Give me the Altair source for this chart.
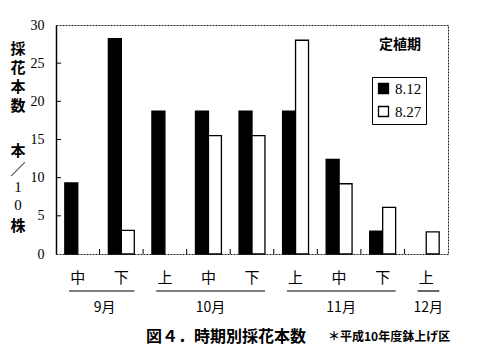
import altair as alt
import pandas as pd

# ---- data ----
slots = ["9月中", "9月下", "10月上", "10月中", "10月下", "11月上", "11月中", "11月下", "12月上"]
series_names = ["8.12", "8.27"]
vals_812 = [9.3, 28.2, 18.7, 18.7, 18.7, 18.7, 12.4, 3.0, 0.0]
vals_827 = [0.0, 3.1, 0.0, 15.5, 15.5, 28.0, 9.2, 6.1, 2.9]
months = ["9月", "10月", "11月", "12月"]
month_first = ["9月中", "10月上", "11月上", "12月上"]
month_last = ["9月下", "10月下", "11月下", "12月上"]
month_label_at = ["9月下", "10月中", "11月中", "12月上"]
y_tick_values = [0, 5, 10, 15, 20, 25, 30]
inner_ticks = [5, 10, 15, 20, 25]
legend_title = "定植期"
caption = "図４．時期別採花本数"
note = "＊平成10年度鉢上げ区"

rows = []
for s, a, b in zip(slots, vals_812, vals_827):
    rows.append({"slot": s, "series": series_names[0], "value": a})
    rows.append({"slot": s, "series": series_names[1], "value": b})
bars_df = pd.DataFrame(rows)
bars_df = bars_df[bars_df["value"] > 0]

W, H = 392, 229
JP = "Noto Sans CJK JP"
SERIF = "Liberation Serif"

xscale = alt.Scale(domain=slots, paddingInner=0, paddingOuter=0)
yscale = alt.Scale(domain=[0, 30])
yaxis = alt.Axis(values=y_tick_values, labelOverlap=False)

bars = alt.Chart(bars_df).mark_bar(stroke="black", strokeWidth=1.3).encode(
    x=alt.X("slot:N", scale=xscale, sort=slots, title=None,
            axis=alt.Axis(labelExpr="substring(datum.label, length(datum.label)-1)")),
    xOffset=alt.XOffset("series:N", scale=alt.Scale(domain=series_names, paddingOuter=0.68, paddingInner=0)),
    y=alt.Y("value:Q", scale=yscale, title=None, axis=yaxis),
    fill=alt.Fill("series:N", scale=alt.Scale(domain=series_names, range=["black", "white"]),
                  legend=alt.Legend(orient="none", legendX=316, legendY=52, title=None,
                                    strokeColor="black", fillColor="white", padding=4,
                                    symbolType="square", symbolSize=100, symbolStrokeColor="black",
                                    symbolStrokeWidth=1.3, labelFont=SERIF, labelFontSize=15,
                                    labelColor="black", labelOffset=4, rowPadding=6)),
)

ytick = alt.Chart(pd.DataFrame({"v": inner_ticks})).mark_rule(color="black", strokeWidth=1).encode(
    y=alt.Y("v:Q", scale=yscale, title=None, axis=yaxis), x=alt.value(0), x2=alt.value(5))

xtick = alt.Chart(pd.DataFrame({"slot": slots[1:]})).mark_rule(color="black", strokeWidth=1).encode(
    x=alt.X("slot:N", scale=xscale, sort=slots, bandPosition=0, title=None),
    y=alt.value(H), y2=alt.value(H - 5))

mdf = pd.DataFrame({"month": months, "first": month_first, "last": month_last, "at": month_label_at})

mrule = alt.Chart(mdf).mark_rule(color="black", strokeWidth=1.2).encode(
    x=alt.X("first:N", scale=xscale, sort=slots, bandPosition=0.3, title=None),
    x2=alt.X2("last:N", bandPosition=0.8),
    y=alt.value(266))

mtext_first = alt.Chart(mdf.iloc[:1]).mark_text(font=JP, fontSize=14, dx=5, color="black").encode(
    x=alt.X("at:N", scale=xscale, sort=slots, bandPosition=0, title=None),
    y=alt.value(283), text="month:N")

mtext_rest = alt.Chart(mdf.iloc[1:]).mark_text(font=JP, fontSize=14, dx=2, color="black").encode(
    x=alt.X("at:N", scale=xscale, sort=slots, bandPosition=0.5, title=None),
    y=alt.value(283), text="month:N")

one = pd.DataFrame({"k": [0]})

def label(txt, x, y, size, font=JP, weight="bold", align="center", baseline="middle", lh=19):
    return alt.Chart(one).mark_text(font=font, fontSize=size, fontWeight=weight, align=align,
                                    baseline=baseline, lineHeight=lh, color="black").encode(
        x=alt.value(x), y=alt.value(y), text=alt.value(txt))

ytitle1 = label(["採", "花", "本", "数"], -38, 17, 15, baseline="top")
ytitle2 = label(["本", "／"], -38, 119, 15, baseline="top")
ytitle3 = label(["1", "0"], -38, 155, 15, font=SERIF, weight="normal", baseline="top", lh=18)
ytitle4 = label("株", -38, 201, 15)
ltitle = label(legend_title, 344, 20, 14)
cap1 = label(caption, 170, 312, 16)
cap2 = label(note, 272, 312, 12, align="left")

chart = alt.layer(
    bars, ytick, xtick, mrule, mtext_first, mtext_rest,
    ytitle1, ytitle2, ytitle3, ytitle4, ltitle, cap1, cap2
).properties(
    width=W, height=H,
    autosize=alt.AutoSizeParams(type="none"),
    padding={"left": 56, "top": 25, "right": 34, "bottom": 104},
    background="white",
).configure_view(
    stroke="#222", strokeWidth=1, strokeDash=[2, 1]
).configure_axisX(
    labelFont=JP, labelFontSize=15, labelColor="black", labelPadding=16, labelAngle=0,
    ticks=False, domain=False, grid=False,
).configure_axisY(
    labelFont=SERIF, labelFontSize=14, labelColor="black", labelPadding=12,
    ticks=False, grid=False, domain=True, domainColor="black", domainWidth=1.5,
)

chart.save("out.html", embed_options={"renderer": "svg", "actions": False})
